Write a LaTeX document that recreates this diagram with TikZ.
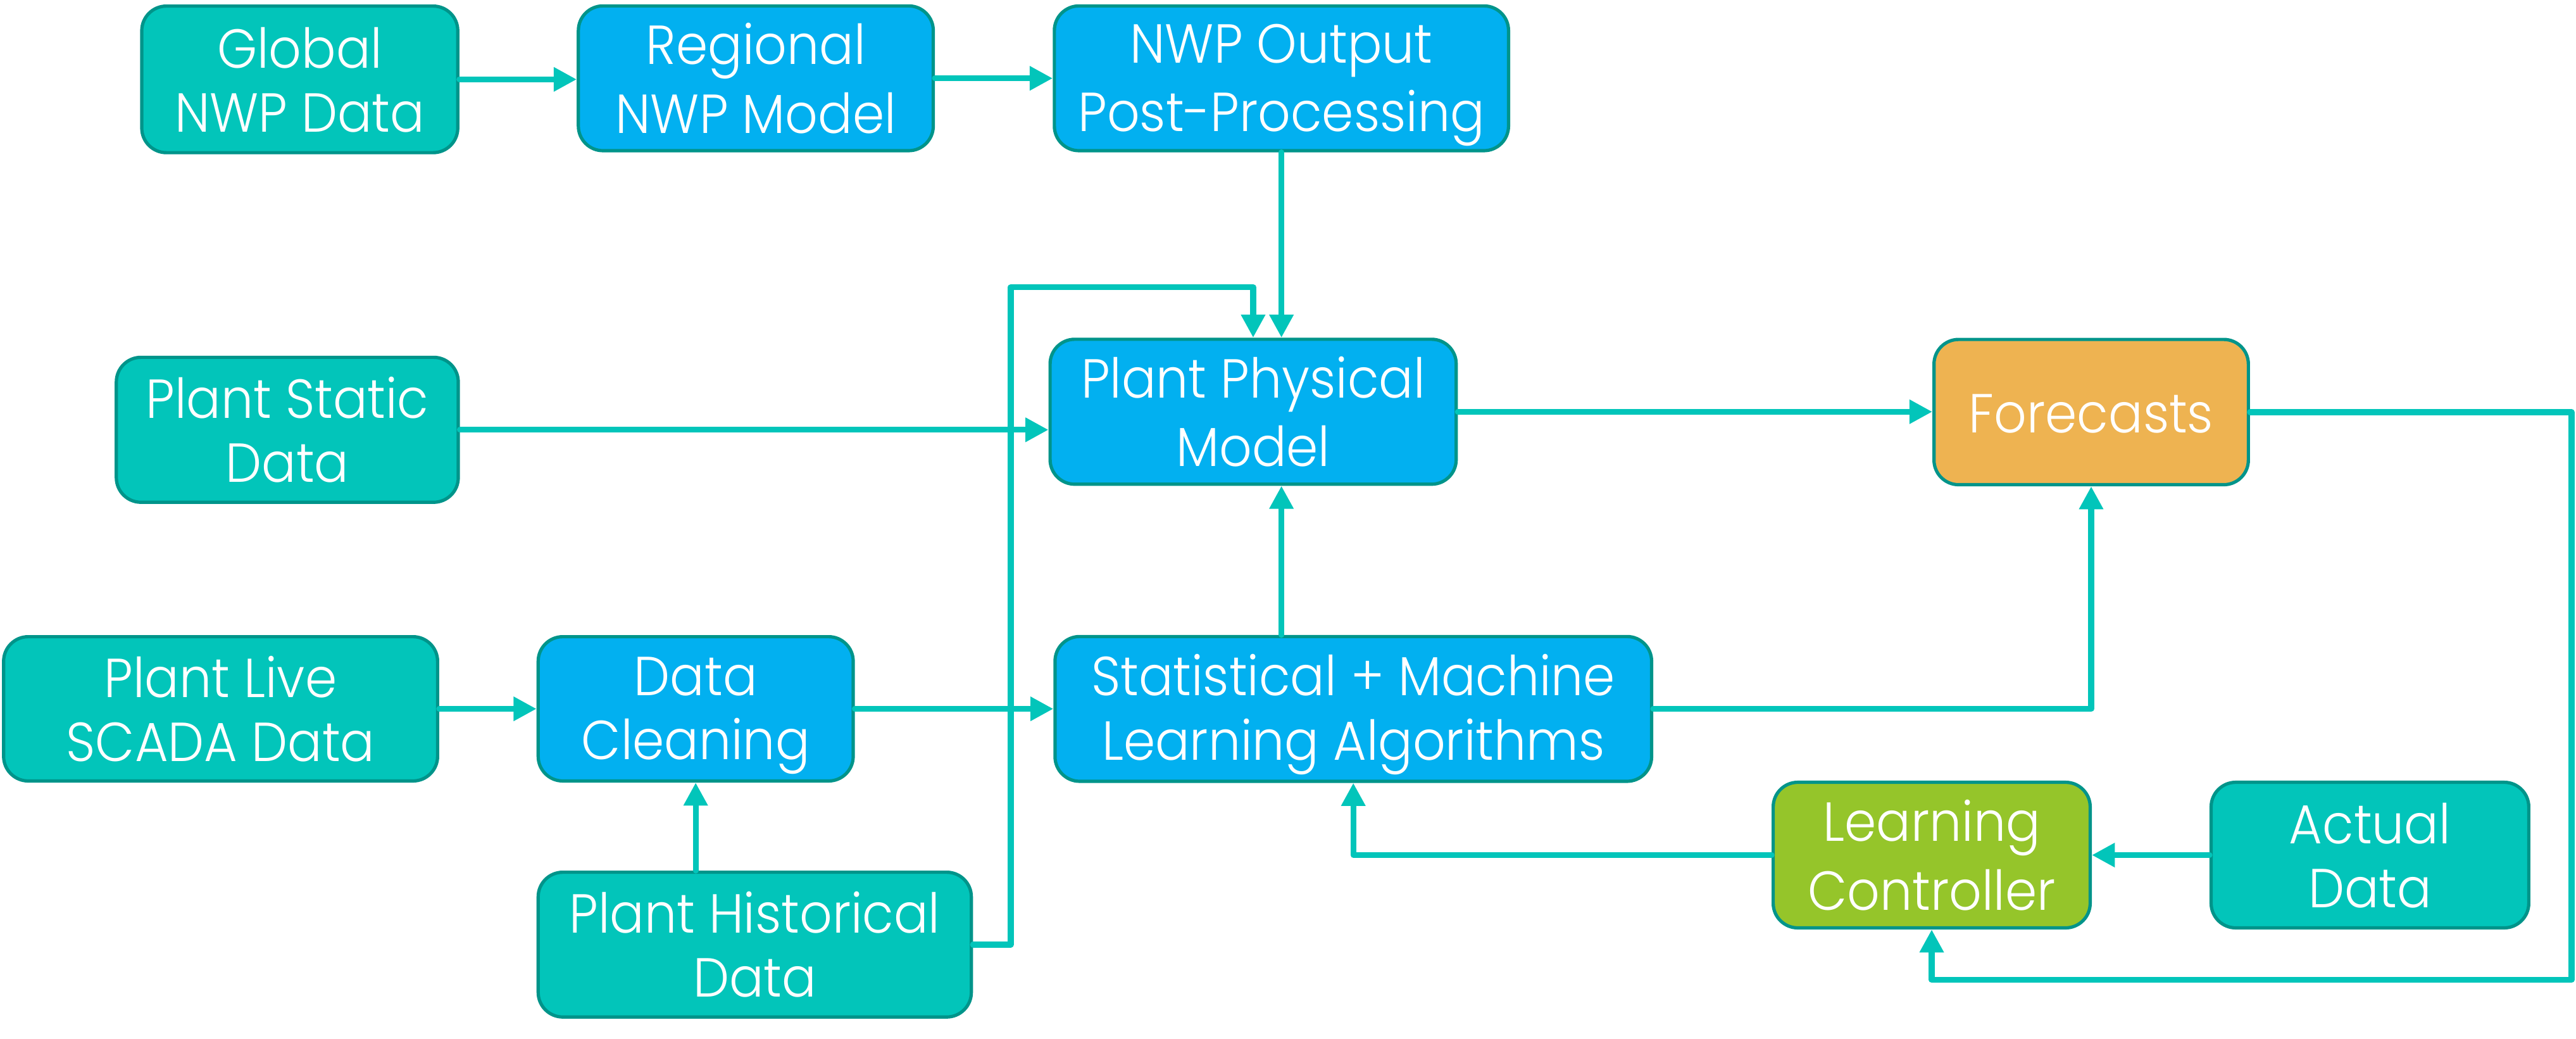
\documentclass[tikz,border=0pt]{standalone}
\usepackage{fontspec}
\IfFontExistsTF{Poppins Light}{\setmainfont{Poppins Light}[FakeStretch=0.93]}{\setmainfont{Poppins}[FakeStretch=0.93]}
\usetikzlibrary{arrows.meta}
\definecolor{tealfill}{HTML}{02C5BA}
\definecolor{bluefill}{HTML}{02B0F0}
\definecolor{greenfill}{HTML}{95C52A}
\definecolor{orangefill}{HTML}{EEB351}
\definecolor{bordc}{HTML}{00948A}
\definecolor{linec}{HTML}{02C5BA}
\newcommand\lnstrut{\rule[-7pt]{0pt}{39pt}}
\begin{document}
\begin{tikzpicture}[x=1pt,y=-1pt,
  box/.style={draw=bordc, line width=2pt, rounded corners=15pt, text=white,
    align=center, inner sep=0pt, outer sep=1pt,
    font=\fontsize{33.5}{39}\selectfont},
  tealbox/.style={box, fill=tealfill},
  bluebox/.style={box, fill=bluefill},
  greenbox/.style={box, fill=greenfill},
  orangebox/.style={box, fill=orangefill},
  conn/.style={draw=linec, line width=3.6pt, line cap=round, line join=round,
    -{Triangle[length=14pt,width=14pt]}}]
\useasboundingbox (0,0) rectangle (1570,633);

\node[tealbox, minimum width=192.6pt, minimum height=89.3pt] (global) at (182.7,48.35) {\lnstrut Global\\\lnstrut NWP Data};
\node[bluebox, minimum width=216.3pt, minimum height=88.2pt] (regional) at (460.65,47.7) {\lnstrut Regional\\\lnstrut NWP Model};
\node[bluebox, minimum width=276.8pt, minimum height=88.2pt] (nwpout) at (781,47.7) {\lnstrut NWP Output\\\lnstrut Post-Processing};
\node[tealbox, minimum width=208.4pt, minimum height=88.3pt] (static) at (175.1,261.85) {\lnstrut Plant Static\\\lnstrut Data};
\node[bluebox, minimum width=247.5pt, minimum height=88.3pt] (phys) at (763.75,250.85) {\lnstrut Plant Physical\\\lnstrut Model};
\node[orangebox, minimum width=191.6pt, minimum height=88.5pt] (fore) at (1274.5,251.05) {\lnstrut Forecasts};
\node[tealbox, minimum width=264.5pt, minimum height=87.9pt] (live) at (134.45,431.85) {\lnstrut Plant Live\\\lnstrut SCADA Data};
\node[bluebox, minimum width=192pt, minimum height=87.9pt] (clean) at (424,431.85) {\lnstrut Data\\\lnstrut Cleaning};
\node[bluebox, minimum width=363.6pt, minimum height=88.2pt] (stat) at (824.8,431.9) {\lnstrut Statistical + Machine\\\lnstrut Learning Algorithms};
\node[greenbox, minimum width=193.2pt, minimum height=88.7pt] (lc) at (1177.3,520.95) {\lnstrut Learning\\\lnstrut Controller};
\node[tealbox, minimum width=193.6pt, minimum height=88.7pt] (actual) at (1444.4,520.95) {\lnstrut Actual\\\lnstrut Data};
\node[tealbox, minimum width=264pt, minimum height=88.2pt] (hist) at (460,575.5) {\lnstrut Plant Historical\\\lnstrut Data};

\coordinate (hturn) at (616,175);
\coordinate (rloop) at (1567.3,597);

\draw[conn] (global.east) -- (global.east -| regional.west);
\draw[conn] (regional.east) -- (regional.east -| nwpout.west);
\draw[conn] (nwpout.south) -- (nwpout.south |- phys.north);
\draw[conn] (hist.east) -| (hturn) -| (phys.north);
\draw[conn] (static.east) -- (static.east -| phys.west);
\draw[conn] (phys.east) -- (phys.east -| fore.west);
\draw[conn] (live.east) -- (live.east -| clean.west);
\draw[conn] (clean.south |- hist.north) -- (clean.south);
\draw[conn] (clean.east) -- (clean.east -| stat.west);
\draw[conn] (nwpout.south |- stat.north) -- (nwpout.south |- phys.south);
\draw[conn] (stat.east) -| (fore.south);
\draw[conn] (fore.east) -| (rloop) -| (lc.south);
\draw[conn] (actual.west) -- (actual.west -| lc.east);
\draw[conn] (lc.west) -| (stat.south);
\end{tikzpicture}
\end{document}
